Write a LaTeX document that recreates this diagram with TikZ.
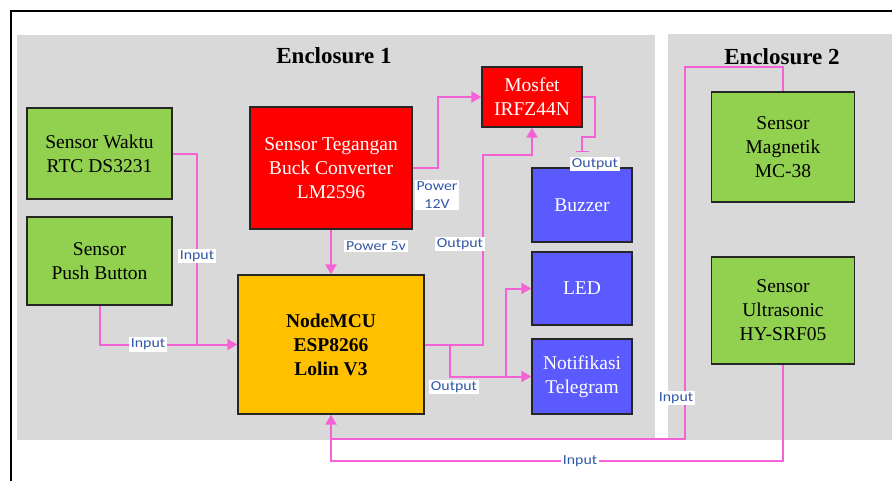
\documentclass[tikz,border=0pt]{standalone}
\usepackage{fontspec}
\usepackage{graphicx}
\setmainfont{Liberation Serif}
\newfontfamily\lblfont{Carlito}
\usetikzlibrary{arrows.meta,calc}
\definecolor{encgray}{HTML}{D9D9D9}
\definecolor{sgreen}{HTML}{92D050}
\definecolor{sred}{HTML}{FF0000}
\definecolor{sblue}{HTML}{5A5AFF}
\definecolor{sorange}{HTML}{FFC000}
\definecolor{pinkc}{HTML}{F462D6}
\definecolor{lblblue}{HTML}{3358A8}
\newcommand\lbw[1]{\scalebox{1.15}[1]{#1}}
\begin{document}
\begin{tikzpicture}[x=1pt,y=-1pt,
  blk/.style={draw=black!85, line width=1.3pt, inner sep=0pt, align=center,
    font=\fontsize{19.5}{24}\selectfont},
  grn/.style={blk, fill=sgreen, text=black},
  rd/.style={blk, fill=sred, text=white},
  bl/.style={blk, fill=sblue, text=white},
  org/.style={blk, fill=sorange, text=black, font=\bfseries\fontsize{19.5}{24}\selectfont},
  conn/.style={draw=pinkc, line width=2pt},
  arr/.style={conn, -{Triangle[length=10pt,width=11pt]}},
  lbl/.style={fill=white, inner sep=1.8pt, text=lblblue, align=center,
    font=\lblfont\fontsize{13.8}{18}\selectfont},
  ttl/.style={font=\bfseries\fontsize{23}{28}\selectfont}
]
\useasboundingbox (0,0) rectangle (892,480);
\fill[white] (0,0) rectangle (892,480);
% frame
\draw[line width=2pt] (11,481) -- (11,11) -- (893,11);
% enclosures
\fill[encgray] (17,35) rectangle (655,440);
\fill[encgray] (668,34) rectangle (893,440);
\node[ttl] (t1) at (334,56) {Enclosure 1};
\node[ttl] (t2) at (782,57) {Enclosure 2};

% blocks
\node[grn, minimum width=145pt, minimum height=91pt] (waktu) at (99.5,153.5) {Sensor Waktu\\RTC DS3231};
\node[grn, minimum width=145pt, minimum height=88pt] (push) at (99.5,261) {Sensor\\Push Button};
\node[rd, minimum width=162pt, minimum height=122pt] (teg) at (331,168) {Sensor Tegangan\\Buck Converter\\LM2596};
\node[rd, minimum width=100pt, minimum height=60pt] (mos) at (532,97) {Mosfet\\IRFZ44N};
\node[bl, minimum width=100pt, minimum height=74pt] (buz) at (582,205) {Buzzer};
\node[bl, minimum width=100pt, minimum height=73pt] (led) at (582,288.5) {LED};
\node[bl, minimum width=100pt, minimum height=75pt] (notif) at (582,376.5) {Notifikasi\\Telegram};
\node[org, minimum width=186pt, minimum height=139pt] (mcu) at (331,344.5) {NodeMCU\\ESP8266\\Lolin V3};
\node[grn, minimum width=143pt, minimum height=110pt] (mag) at (783,147) {Sensor\\Magnetik\\MC-38};
\node[grn, minimum width=143pt, minimum height=107pt] (ultra) at (783,310.5) {Sensor\\Ultrasonic\\HY-SRF05};

% junctions
\coordinate (j1) at (197,344.5);
\coordinate (j3) at (331,439);
\coordinate (bt) at ($(buz.north)+(0,-15)$);

% connectors
\draw[conn] (waktu.east) -| (j1);
\draw[conn] (push.south) |- (j1);
\draw[arr] (j1) -- (mcu.west);
\draw[arr] (teg.south) -- (mcu.north);
\draw[arr] (teg.east) -- ++(25,0) |- (mos.west);
\draw[arr] (mcu.east) -- (483,344.5) |- (532,155) -- (mos.south);
\draw[arr] (mcu.east) -- (450,344.5) |- (notif.west);
\draw[arr] (506,376.5) |- (led.west);
\draw[conn, -{Bar[width=13pt,line width=1.6pt]}] (mos.east) -| (595,137) -- (582,137) -- (bt);
\draw[arr] (mag.north) |- (685,67) -- (685,439) -| (mcu.south);
\draw[conn] (ultra.south) |- (331,461) -- (j3);

% labels
\node[lbl] (l1) at (197,256) {\lbw{Input}};
\node[lbl] (l2) at (148,344.5) {\lbw{Input}};
\node[lbl] (l3) at (376,246) {\lbw{Power 5v}};
\node[lbl] (l4) at (437,195) {\lbw{Power}\\\lbw{12V}};
\node[lbl] (l5) at (460,244) {\lbw{Output}};
\node[lbl] (l6) at (454,387) {\lbw{Output}};
\node[lbl] (l7) at (595,164) {\lbw{Output}};
\node[lbl] (l8) at (676,398) {\lbw{Input}};
\node[lbl] (l9) at (580,461) {\lbw{Input}};
\end{tikzpicture}
\end{document}
